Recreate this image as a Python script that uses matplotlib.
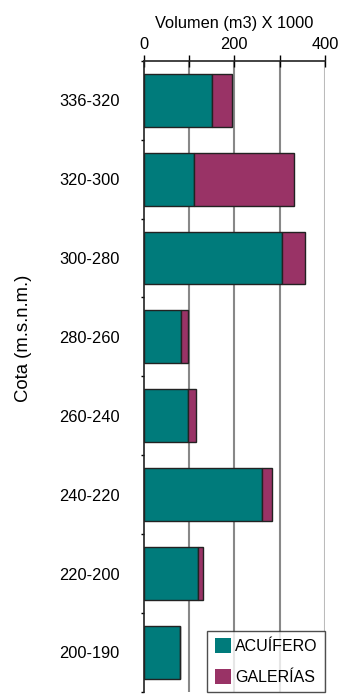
import matplotlib.pyplot as plt
import numpy as np

plt.rcParams['font.family'] = ['Liberation Sans', 'DejaVu Sans']

cotas = ['336-320', '320-300', '300-280', '280-260', '260-240', '240-220', '220-200', '200-190']
acuifero = [150, 112, 305, 82, 99, 262, 120, 80]
galerias = [46, 219, 51, 17, 17, 22, 10, 0]

teal = '#007b7b'
purple = '#993366'

fig = plt.figure(figsize=(3.41, 6.94), dpi=100)
ax = fig.add_axes([0.421, 0.003, 0.532, 0.9095])

y = np.arange(len(cotas))
ax.barh(y, acuifero, height=0.67, color=teal, edgecolor='#222222', linewidth=1, label='ACUÍFERO', zorder=3)
ax.barh(y, galerias, left=acuifero, height=0.67, color=purple, edgecolor='#222222', linewidth=1,
        label='GALERÍAS', zorder=3)

ax.set_xlim(0, 400)
ax.set_ylim(len(cotas) - 0.5, -0.5)
ax.xaxis.tick_top()
ax.xaxis.set_label_position('top')
ax.set_xticks([0, 200, 400])
ax.set_xticks([100, 300], minor=True)
ax.tick_params(axis='x', which='both', direction='inout', length=8, width=1, labelsize=11.8, pad=2)
ax.set_xlabel('Volumen (m3) X 1000', fontsize=11.8, labelpad=7)

ax.set_yticks(y)
ax.set_yticklabels(cotas, fontsize=11.8, ha='left')
ax.set_yticks(np.arange(len(cotas) + 1) - 0.5, minor=True)
ax.tick_params(axis='y', which='major', length=0, pad=61)
ax.tick_params(axis='y', which='minor', direction='out', length=2.5, width=1)

for v in [100, 200, 300]:
    ax.axvline(v, color='#888888', linewidth=1.5, zorder=1)
ax.axvline(400, color='#bbbbbb', linewidth=1.5, zorder=1)

for s in ['right', 'bottom']:
    ax.spines[s].set_visible(False)
for s in ['top', 'left']:
    ax.spines[s].set_linewidth(1.2)
    ax.spines[s].set_color('#222222')

fig.text(0.07, 0.513, 'Cota (m.s.n.m.)', rotation=90, fontsize=13.3, ha='center', va='center')

leg = ax.legend(loc='lower right', fontsize=11.5, frameon=True, fancybox=False, edgecolor='#222222',
                handlelength=1.05, handleheight=1.05, borderaxespad=0, borderpad=0.45,
                handletextpad=0.25, labelspacing=0.95)
leg.get_frame().set_linewidth(1)
for h in leg.legend_handles:
    h.set_edgecolor('none')

fig.savefig('out.png', dpi=100)
